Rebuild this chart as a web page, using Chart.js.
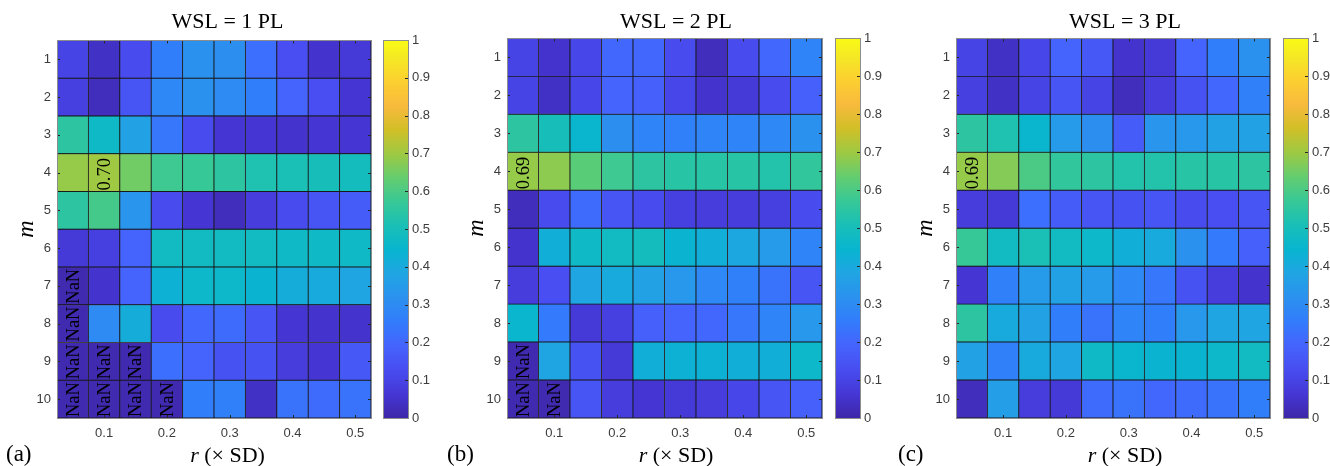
<!DOCTYPE html>
<html>
<head>
<meta charset="utf-8">
<script src="https://cdn.jsdelivr.net/npm/chart.js@4.4.1/dist/chart.umd.min.js"></script>
<style>
  body { margin: 0; background: #fff; }
  #page { position: relative; width: 1330px; height: 466px; overflow: hidden; }
  canvas { position: absolute; top: 0; }
  .tag { position: absolute; top: 442px; font-family: 'Liberation Serif', serif; font-size: 23px; line-height: 23px; color: #000; z-index: 5; }
</style>
</head>
<body>
<div id="page">
  <canvas id="heatA" width="455" height="466" style="left:0px"></canvas>
  <canvas id="barA" width="50" height="466" style="left:383px"></canvas>
  <canvas id="heatB" width="452" height="466" style="left:450px"></canvas>
  <canvas id="barB" width="50" height="466" style="left:835px"></canvas>
  <canvas id="heatC" width="452" height="466" style="left:899px"></canvas>
  <canvas id="barC" width="50" height="466" style="left:1283px"></canvas>
  <div class="tag" style="left:6px">(a)</div>
  <div class="tag" style="left:447px">(b)</div>
  <div class="tag" style="left:898px">(c)</div>
</div>
<script>
const rValues = [0.05, 0.10, 0.15, 0.20, 0.25, 0.30, 0.35, 0.40, 0.45, 0.50];
const rTicks = [0.1, 0.2, 0.3, 0.4, 0.5];
const rTickLabels = ['0.1', '0.2', '0.3', '0.4', '0.5'];
const mValues = [1, 2, 3, 4, 5, 6, 7, 8, 9, 10];
const cbTicks = [0, 0.1, 0.2, 0.3, 0.4, 0.5, 0.6, 0.7, 0.8, 0.9, 1];
const cbTickLabels = ['0', '0.1', '0.2', '0.3', '0.4', '0.5', '0.6', '0.7', '0.8', '0.9', '1'];

// rows: m = 1..10, columns: r = 0.05..0.50, null = NaN
const wsl1 = [
  [0.10, 0.04, 0.12, 0.26, 0.32, 0.31, 0.22, 0.13, 0.05, 0.07],
  [0.09, 0.03, 0.15, 0.29, 0.32, 0.30, 0.26, 0.19, 0.13, 0.06],
  [0.55, 0.47, 0.37, 0.24, 0.12, 0.06, 0.06, 0.05, 0.06, 0.06],
  [0.69, 0.70, 0.65, 0.58, 0.57, 0.55, 0.52, 0.51, 0.50, 0.49],
  [0.55, 0.59, 0.33, 0.12, 0.06, 0.03, 0.08, 0.12, 0.15, 0.17],
  [0.07, 0.09, 0.19, 0.48, 0.48, 0.48, 0.48, 0.47, 0.47, 0.47],
  [null, 0.05, 0.19, 0.43, 0.46, 0.46, 0.44, 0.41, 0.40, 0.38],
  [null, 0.30, 0.41, 0.12, 0.20, 0.21, 0.15, 0.06, 0.05, 0.05],
  [null, null, null, 0.22, 0.19, 0.14, 0.14, 0.08, 0.06, 0.16],
  [null, null, null, null, 0.26, 0.27, 0.04, 0.23, 0.21, 0.23]
];
const wsl2 = [
  [0.10, 0.05, 0.11, 0.20, 0.20, 0.12, 0.03, 0.12, 0.20, 0.28],
  [0.10, 0.04, 0.11, 0.19, 0.18, 0.11, 0.05, 0.07, 0.12, 0.18],
  [0.55, 0.50, 0.45, 0.31, 0.28, 0.27, 0.28, 0.28, 0.29, 0.32],
  [0.69, 0.68, 0.62, 0.58, 0.55, 0.54, 0.54, 0.54, 0.53, 0.56],
  [0.03, 0.12, 0.21, 0.15, 0.12, 0.09, 0.08, 0.08, 0.09, 0.12],
  [0.05, 0.42, 0.47, 0.48, 0.49, 0.44, 0.42, 0.39, 0.35, 0.28],
  [0.08, 0.13, 0.38, 0.40, 0.37, 0.34, 0.29, 0.27, 0.23, 0.15],
  [0.45, 0.25, 0.07, 0.09, 0.18, 0.19, 0.20, 0.24, 0.28, 0.34],
  [null, 0.38, 0.14, 0.07, 0.42, 0.43, 0.43, 0.42, 0.42, 0.46],
  [null, null, 0.15, 0.08, 0.06, 0.07, 0.08, 0.11, 0.15, 0.18]
];
const wsl3 = [
  [0.10, 0.04, 0.11, 0.19, 0.16, 0.05, 0.07, 0.19, 0.26, 0.32],
  [0.09, 0.04, 0.10, 0.15, 0.10, 0.03, 0.08, 0.14, 0.20, 0.27],
  [0.55, 0.52, 0.45, 0.35, 0.31, 0.17, 0.33, 0.34, 0.37, 0.37],
  [0.69, 0.67, 0.60, 0.56, 0.55, 0.53, 0.53, 0.54, 0.54, 0.55],
  [0.08, 0.07, 0.22, 0.17, 0.15, 0.14, 0.15, 0.12, 0.13, 0.15],
  [0.57, 0.48, 0.51, 0.48, 0.46, 0.42, 0.40, 0.32, 0.25, 0.18],
  [0.06, 0.27, 0.35, 0.37, 0.35, 0.29, 0.24, 0.14, 0.08, 0.05],
  [0.55, 0.40, 0.37, 0.26, 0.23, 0.28, 0.26, 0.34, 0.38, 0.38],
  [0.37, 0.27, 0.40, 0.38, 0.47, 0.45, 0.44, 0.44, 0.46, 0.48],
  [0.03, 0.36, 0.08, 0.07, 0.21, 0.23, 0.20, 0.21, 0.23, 0.26]
];

// parula colormap, sampled
const parula = [
  [0.000, 62, 38, 168], [0.063, 69, 55, 213], [0.127, 72, 77, 240], [0.190, 69, 99, 253],
  [0.254, 50, 124, 252], [0.317, 43, 145, 239], [0.381, 32, 165, 227], [0.444, 8, 181, 208],
  [0.508, 25, 191, 182], [0.571, 55, 200, 151], [0.635, 100, 205, 111], [0.698, 157, 201, 67],
  [0.762, 209, 191, 39], [0.825, 248, 186, 61], [0.889, 252, 207, 48], [0.952, 245, 233, 36],
  [1.000, 249, 251, 21]
];
const nanColor = 'rgb(63, 42, 176)';
const serif = "'Liberation Serif', 'Times New Roman', serif";
const sans = "'Liberation Sans', Arial, sans-serif";
const axisGray = '#8c8c8c';
const labelGray = '#3c3c3c';

function colorAt(t) {
  if (t === null) return nanColor;
  t = Math.max(0, Math.min(1, t));
  for (let i = 1; i < parula.length; i++) {
    if (t <= parula[i][0]) {
      const a = parula[i - 1], b = parula[i];
      const f = (t - a[0]) / (b[0] - a[0]);
      const c = [1, 2, 3].map(k => Math.round(a[k] + (b[k] - a[k]) * f));
      return 'rgb(' + c.join(',') + ')';
    }
  }
  return 'rgb(249,251,21)';
}

// small inward tick marks like MATLAB axes
const innerTicks = {
  id: 'innerTicks',
  afterDatasetsDraw(chart, args, opts) {
    const {ctx, chartArea: a} = chart;
    const len = 3;
    ctx.save();
    ctx.strokeStyle = '#262626';
    ctx.lineWidth = 1;
    ctx.beginPath();
    if (opts.x) {
      const sx = chart.scales.x;
      opts.x.forEach(v => {
        const px = Math.round(sx.getPixelForValue(v)) + 0.5;
        ctx.moveTo(px, a.bottom); ctx.lineTo(px, a.bottom - len);
        ctx.moveTo(px, a.top); ctx.lineTo(px, a.top + len);
      });
    }
    if (opts.y) {
      const sy = chart.scales.y;
      opts.y.forEach(v => {
        const py = Math.round(sy.getPixelForValue(v)) + 0.5;
        if (opts.left !== false) { ctx.moveTo(a.left, py); ctx.lineTo(a.left + len, py); }
        ctx.moveTo(a.right, py); ctx.lineTo(a.right - len, py);
      });
    }
    ctx.stroke();
    ctx.restore();
  }
};

// NaN marks and the maximum value, written sideways in the cells
const cellText = {
  id: 'cellText',
  afterDatasetsDraw(chart, args, opts) {
    if (!opts.values) return;
    const {ctx} = chart;
    const sx = chart.scales.x, sy = chart.scales.y;
    let best = -1, bi = 0, bj = 0;
    opts.values.forEach((row, i) => row.forEach((v, j) => {
      if (v !== null && v > best) { best = v; bi = i; bj = j; }
    }));
    const put = (txt, i, j) => {
      const cx = sx.getPixelForValue(rValues[j]);
      const bottom = sy.getPixelForValue(mValues[i] + 0.5);
      ctx.save();
      ctx.translate(cx, bottom - 1);
      ctx.rotate(-Math.PI / 2);
      ctx.font = '18.5px ' + serif;
      ctx.fillStyle = '#000';
      ctx.textAlign = 'left';
      ctx.textBaseline = 'middle';
      ctx.fillText(txt, 0, 1);
      ctx.restore();
    };
    opts.values.forEach((row, i) => row.forEach((v, j) => {
      if (v === null) put('NaN', i, j);
    }));
    put(best.toFixed(2), bi, bj);
  }
};

// x axis title with italic r
const xTitle = {
  id: 'xTitle',
  afterDraw(chart, args, opts) {
    if (!opts.show) return;
    const {ctx} = chart;
    ctx.save();
    ctx.fillStyle = '#000';
    ctx.textBaseline = 'middle';
    ctx.textAlign = 'left';
    const part1 = 'r', part2 = ' (\u00d7 SD)';
    ctx.font = 'italic 22px ' + serif;
    const w1 = ctx.measureText(part1).width;
    ctx.font = '22px ' + serif;
    const w2 = ctx.measureText(part2).width;
    const x0 = chart.width / 2 - (w1 + w2) / 2;
    ctx.font = 'italic 22px ' + serif;
    ctx.fillText(part1, x0, 456);
    ctx.font = '22px ' + serif;
    ctx.fillText(part2, x0 + w1, 456);
    ctx.restore();
  }
};

function frame(extra) {
  return Object.assign({
    type: 'linear',
    offset: false,
    grid: { display: false, drawTicks: false, offset: false },
    border: { display: true, color: axisGray, width: 1, z: 1 }
  }, extra);
}

function makeHeatmap(id, values, title, rightWidth, titleBottom) {
  const points = [];
  values.forEach((row, i) => row.forEach((v, j) => {
    points.push({ x: rValues[j], y: [mValues[i] - 0.5, mValues[i] + 0.5], v: v });
  }));
  const setX = s => { s.ticks = rTicks.map(v => ({ value: v })); };
  const setY = s => { s.ticks = mValues.map(v => ({ value: v })); };
  return new Chart(document.getElementById(id), {
    type: 'bar',
    data: {
      datasets: [{
        data: points,
        backgroundColor: c => colorAt(c.raw.v),
        borderColor: '#181818',
        borderWidth: 0.8,
        borderSkipped: false,
        barPercentage: 1,
        categoryPercentage: 1,
        grouped: false
      }]
    },
    options: {
      responsive: false,
      animation: false,
      events: [],
      layout: { padding: 0 },
      plugins: {
        legend: { display: false },
        tooltip: { enabled: false },
        title: {
          display: true, text: title, color: '#000',
          font: { family: serif, size: 22, weight: 'normal', lineHeight: 1.2 },
          padding: { top: 9, bottom: titleBottom }
        },
        innerTicks: { x: rTicks, y: mValues },
        cellText: { values: values },
        xTitle: { show: true }
      },
      scales: {
        x: frame({
          position: 'bottom', min: 0.025, max: 0.525,
          afterBuildTicks: setX,
          afterFit: s => { s.height = 48; },
          ticks: {
            autoSkip: false, maxRotation: 0, padding: 8, color: labelGray,
            font: { family: sans, size: 13 },
            callback: (v, i) => rTickLabels[i]
          }
        }),
        x2: frame({
          position: 'top', min: 0.025, max: 0.525,
          afterBuildTicks: setX,
          afterFit: s => { s.height = 0; },
          ticks: { display: false }
        }),
        y: frame({
          position: 'left', min: 0.5, max: 10.5, reverse: true,
          afterBuildTicks: setY,
          afterFit: s => { s.width = 57; },
          ticks: {
            autoSkip: false, padding: 6, color: labelGray,
            font: { family: sans, size: 13 },
            callback: (v, i) => String(mValues[i])
          },
          title: {
            display: true, text: 'm', color: '#000',
            font: { family: serif, size: 24, style: 'italic', lineHeight: 1.2 },
            padding: { top: 12, bottom: 0 }
          }
        }),
        y2: frame({
          position: 'right', min: 0.5, max: 10.5, reverse: true,
          afterBuildTicks: setY,
          afterFit: s => { s.width = rightWidth; },
          ticks: { display: false }
        })
      }
    },
    plugins: [innerTicks, cellText, xTitle]
  });
}

function makeColorbar(id, top) {
  const one = s => { s.ticks = [{ value: 0 }]; };
  return new Chart(document.getElementById(id), {
    type: 'bar',
    data: {
      datasets: [{
        data: [{ x: 0, y: [0, 1] }],
        backgroundColor: c => {
          const a = c.chart.chartArea;
          if (!a) return nanColor;
          const g = c.chart.ctx.createLinearGradient(0, a.bottom, 0, a.top);
          parula.forEach(p => g.addColorStop(p[0], 'rgb(' + p[1] + ',' + p[2] + ',' + p[3] + ')'));
          return g;
        },
        borderWidth: 0,
        barPercentage: 1,
        categoryPercentage: 1
      }]
    },
    options: {
      responsive: false,
      animation: false,
      events: [],
      layout: { padding: { top: top, left: 0, right: 0, bottom: 0 } },
      plugins: {
        legend: { display: false },
        tooltip: { enabled: false },
        innerTicks: { y: cbTicks, left: false }
      },
      scales: {
        x: frame({
          position: 'bottom', min: -0.5, max: 0.5,
          afterBuildTicks: one,
          afterFit: s => { s.height = 48; },
          ticks: { display: false }
        }),
        x2: frame({
          position: 'top', min: -0.5, max: 0.5,
          afterBuildTicks: one,
          afterFit: s => { s.height = 0; },
          ticks: { display: false }
        }),
        y: frame({
          position: 'right', min: 0, max: 1,
          afterBuildTicks: s => { s.ticks = cbTicks.map(v => ({ value: v })); },
          afterFit: s => { s.width = 25; },
          ticks: {
            autoSkip: false, padding: 4, color: labelGray,
            font: { family: sans, size: 13 },
            callback: (v, i) => cbTickLabels[i]
          }
        }),
        y2: frame({
          position: 'left', min: 0, max: 1,
          afterBuildTicks: s => { s.ticks = cbTicks.map(v => ({ value: v })); },
          afterFit: s => { s.width = 0; },
          ticks: { display: false }
        })
      }
    },
    plugins: [innerTicks]
  });
}

makeHeatmap('heatA', wsl1, 'WSL = 1 PL', 84, 5);
makeHeatmap('heatB', wsl2, 'WSL = 2 PL', 80, 3);
makeHeatmap('heatC', wsl3, 'WSL = 3 PL', 81, 3);
makeColorbar('barA', 40);
makeColorbar('barB', 38);
makeColorbar('barC', 38);
</script>
</body>
</html>
